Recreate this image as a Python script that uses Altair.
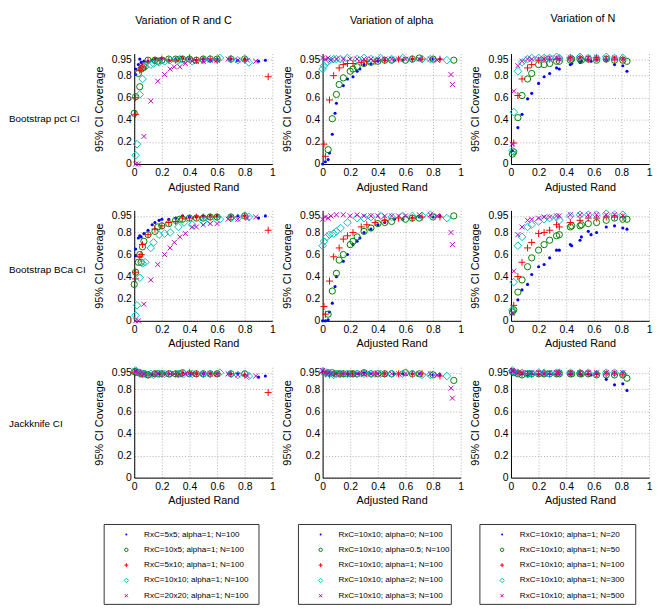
import altair as alt
import pandas as pd

FONT = "Liberation Sans"

COL_TITLES = ["Variation of R and C", "Variation of alpha", "Variation of N"]
ROW_LABELS = ["Bootstrap pct CI", "Bootstrap BCa CI", "Jackknife CI"]
X_TITLE = "Adjusted Rand"
Y_TITLE = "95% CI Coverage"
X_TICKS = [0, 0.2, 0.4, 0.6, 0.8, 1]
Y_TICKS = [0, 0.2, 0.4, 0.6, 0.8, 0.95]

LEGEND_RC = ["RxC=5x5; alpha=1; N=100", "RxC=10x5; alpha=1; N=100", "RxC=5x10; alpha=1; N=100",
             "RxC=10x10; alpha=1; N=100", "RxC=20x20; alpha=1; N=100"]
LEGEND_ALPHA = ["RxC=10x10; alpha=0; N=100", "RxC=10x10; alpha=0.5; N=100", "RxC=10x10; alpha=1; N=100",
                "RxC=10x10; alpha=2; N=100", "RxC=10x10; alpha=3; N=100"]
LEGEND_N = ["RxC=10x10; alpha=1; N=20", "RxC=10x10; alpha=1; N=50", "RxC=10x10; alpha=1; N=100",
            "RxC=10x10; alpha=1; N=300", "RxC=10x10; alpha=1; N=500"]

# ---------------- Column 1: variation of R and C ----------------
RC_5x5_X = [0.01, 0.01, 0.03, 0.04, 0.05, 0.07, 0.10, 0.13, 0.15, 0.18, 0.20, 0.25, 0.30, 0.35, 0.40,
            0.45, 0.50, 0.55, 0.60, 0.70, 0.75, 0.80, 0.90, 0.95]
RC_5x5_PCT = [0.81, 0.86, 0.90, 0.95, 0.92, 0.93, 0.93, 0.94, 0.95, 0.95, 0.95, 0.94, 0.95, 0.96, 0.95,
              0.94, 0.95, 0.94, 0.95, 0.95, 0.94, 0.95, 0.93, 0.94]
RC_5x5_BCA = [0.59, 0.65, 0.75, 0.77, 0.76, 0.79, 0.82, 0.87, 0.89, 0.91, 0.92, 0.92, 0.93, 0.95, 0.94,
              0.94, 0.95, 0.95, 0.95, 0.95, 0.95, 0.95, 0.93, 0.95]
RC_5x5_JACK = [0.97, 0.96, 0.95, 0.94, 0.94, 0.94, 0.94, 0.93, 0.94, 0.94, 0.94, 0.94, 0.94, 0.95, 0.94,
               0.94, 0.94, 0.94, 0.94, 0.94, 0.94, 0.93, 0.91, 0.92]

RC_10x5_X = [0.00, 0.01, 0.03, 0.04, 0.05, 0.06, 0.07, 0.10, 0.15, 0.17, 0.20, 0.25, 0.30, 0.33, 0.35,
             0.40, 0.45, 0.50, 0.55, 0.60, 0.70, 0.80]
RC_10x5_PCT = [0.46, 0.61, 0.82, 0.70, 0.86, 0.87, 0.88, 0.94, 0.94, 0.93, 0.94, 0.95, 0.95, 0.95, 0.95,
               0.95, 0.94, 0.95, 0.95, 0.95, 0.95, 0.95]
RC_10x5_BCA = [0.33, 0.44, 0.53, 0.60, 0.53, 0.67, 0.72, 0.78, 0.81, 0.85, 0.86, 0.88, 0.91, 0.92, 0.92,
               0.93, 0.93, 0.93, 0.94, 0.94, 0.94, 0.95]
RC_10x5_JACK = [0.96, 0.96, 0.95, 0.95, 0.94, 0.94, 0.94, 0.93, 0.94, 0.94, 0.94, 0.94, 0.94, 0.94, 0.95,
                0.94, 0.94, 0.94, 0.94, 0.94, 0.94, 0.94]

RC_5x10_X = [0.01, 0.01, 0.04, 0.05, 0.06, 0.10, 0.15, 0.20, 0.25, 0.30, 0.35, 0.40, 0.45, 0.50, 0.55,
             0.60, 0.70, 0.80, 0.97]
RC_5x10_PCT = [0.45, 0.60, 0.85, 0.87, 0.88, 0.93, 0.94, 0.95, 0.94, 0.94, 0.95, 0.96, 0.94, 0.95, 0.95,
               0.94, 0.95, 0.94, 0.79]
RC_5x10_BCA = [0.38, 0.44, 0.58, 0.60, 0.69, 0.78, 0.83, 0.86, 0.89, 0.90, 0.93, 0.93, 0.94, 0.94, 0.94,
               0.94, 0.94, 0.95, 0.82]
RC_5x10_JACK = [0.96, 0.95, 0.94, 0.94, 0.94, 0.93, 0.94, 0.94, 0.94, 0.94, 0.94, 0.95, 0.94, 0.94, 0.94,
                0.94, 0.94, 0.93, 0.77]

RC_10x10_X = [0.01, 0.02, 0.04, 0.06, 0.08, 0.12, 0.14, 0.18, 0.22, 0.26, 0.32, 0.36, 0.42, 0.50, 0.55,
              0.62, 0.70, 0.75, 0.80, 0.83]
RC_10x10_PCT = [0.08, 0.18, 0.63, 0.77, 0.88, 0.90, 0.91, 0.92, 0.93, 0.94, 0.94, 0.94, 0.93, 0.94, 0.95,
                0.96, 0.95, 0.94, 0.95, 0.92]
RC_10x10_BCA = [0.05, 0.14, 0.39, 0.52, 0.53, 0.66, 0.71, 0.78, 0.79, 0.80, 0.85, 0.89, 0.87, 0.90, 0.91,
                0.92, 0.93, 0.93, 0.95, 0.94]
RC_10x10_JACK = [0.97, 0.96, 0.95, 0.94, 0.94, 0.94, 0.93, 0.94, 0.94, 0.94, 0.94, 0.94, 0.94, 0.94, 0.94,
                 0.95, 0.94, 0.93, 0.94, 0.92]

RC_20x20_X = [0.01, 0.03, 0.07, 0.12, 0.17, 0.22, 0.26, 0.29, 0.33, 0.37, 0.42, 0.45, 0.50, 0.55, 0.60,
              0.68, 0.75, 0.82, 0.88]
RC_20x20_PCT = [0.00, 0.00, 0.25, 0.57, 0.75, 0.81, 0.86, 0.88, 0.88, 0.91, 0.93, 0.93, 0.93, 0.94, 0.94,
                0.95, 0.94, 0.94, 0.93]
RC_20x20_BCA = [0.00, 0.00, 0.15, 0.37, 0.51, 0.60, 0.66, 0.71, 0.76, 0.79, 0.85, 0.85, 0.87, 0.88, 0.88,
                0.92, 0.92, 0.93, 0.94]
RC_20x20_JACK = [0.96, 0.95, 0.94, 0.94, 0.94, 0.94, 0.94, 0.94, 0.93, 0.94, 0.94, 0.94, 0.94, 0.94, 0.94,
                 0.94, 0.93, 0.92, 0.92]

# ---------------- Column 2: variation of alpha ----------------
AL_0_X = [0.00, 0.02, 0.04, 0.05, 0.07, 0.09, 0.10, 0.15, 0.18, 0.22, 0.25, 0.27, 0.30, 0.35, 0.40,
          0.45, 0.52, 0.58, 0.65, 0.70, 0.80, 0.85]
AL_0_PCT = [0.00, 0.02, 0.04, 0.10, 0.27, 0.46, 0.55, 0.71, 0.77, 0.79, 0.84, 0.86, 0.90, 0.91, 0.93,
            0.94, 0.94, 0.94, 0.95, 0.95, 0.95, 0.95]
AL_0_BCA = [0.00, 0.00, 0.01, 0.08, 0.16, 0.31, 0.40, 0.54, 0.60, 0.69, 0.72, 0.75, 0.80, 0.83, 0.87,
            0.89, 0.92, 0.92, 0.93, 0.94, 0.94, 0.95]
AL_0_JACK = [0.96, 0.95, 0.95, 0.95, 0.95, 0.94, 0.94, 0.94, 0.94, 0.94, 0.94, 0.94, 0.95, 0.94, 0.94,
             0.94, 0.94, 0.94, 0.94, 0.94, 0.93, 0.93]

AL_05_X = [0.04, 0.07, 0.10, 0.12, 0.15, 0.20, 0.22, 0.25, 0.30, 0.35, 0.40, 0.45, 0.50, 0.60, 0.65,
           0.70, 0.80, 0.95]
AL_05_PCT = [0.13, 0.41, 0.63, 0.72, 0.78, 0.84, 0.86, 0.88, 0.91, 0.92, 0.93, 0.94, 0.94, 0.94, 0.95,
             0.96, 0.95, 0.94]
AL_05_BCA = [0.06, 0.27, 0.43, 0.55, 0.60, 0.69, 0.72, 0.76, 0.81, 0.84, 0.88, 0.89, 0.90, 0.92, 0.93,
             0.93, 0.94, 0.95]
AL_05_JACK = [0.95, 0.95, 0.94, 0.94, 0.94, 0.94, 0.94, 0.94, 0.95, 0.94, 0.94, 0.94, 0.94, 0.95, 0.94,
              0.94, 0.93, 0.88]

AL_1_X = [0.01, 0.02, 0.05, 0.08, 0.12, 0.15, 0.18, 0.22, 0.28, 0.32, 0.38, 0.45, 0.55, 0.65, 0.72, 0.85]
AL_1_PCT = [0.18, 0.07, 0.58, 0.80, 0.87, 0.90, 0.91, 0.91, 0.92, 0.93, 0.93, 0.94, 0.95, 0.95, 0.95, 0.95]
AL_1_BCA = [0.13, 0.06, 0.36, 0.58, 0.66, 0.74, 0.77, 0.80, 0.85, 0.87, 0.89, 0.91, 0.93, 0.93, 0.94, 0.94]
AL_1_JACK = [0.95, 0.94, 0.93, 0.94, 0.94, 0.94, 0.94, 0.94, 0.94, 0.94, 0.94, 0.94, 0.94, 0.94, 0.94, 0.92]

AL_2_X = [0.00, 0.01, 0.03, 0.05, 0.08, 0.10, 0.13, 0.18, 0.25, 0.30, 0.35, 0.42, 0.50, 0.58, 0.65,
          0.72, 0.78, 0.90]
AL_2_PCT = [0.86, 0.89, 0.92, 0.94, 0.95, 0.95, 0.95, 0.96, 0.95, 0.96, 0.95, 0.96, 0.95, 0.96, 0.95,
            0.95, 0.95, 0.94]
AL_2_BCA = [0.68, 0.72, 0.76, 0.78, 0.79, 0.81, 0.84, 0.89, 0.93, 0.93, 0.94, 0.95, 0.94, 0.95, 0.95,
            0.95, 0.96, 0.93]
AL_2_JACK = [0.96, 0.95, 0.95, 0.94, 0.93, 0.94, 0.94, 0.94, 0.94, 0.94, 0.94, 0.94, 0.94, 0.94, 0.94,
             0.93, 0.93, 0.92]

AL_3_X = [0.00, 0.02, 0.04, 0.06, 0.10, 0.15, 0.20, 0.25, 0.30, 0.35, 0.40, 0.45, 0.50, 0.55, 0.60,
          0.70, 0.78, 0.83, 0.93, 0.94]
AL_3_PCT = [0.96, 0.95, 0.96, 0.94, 0.95, 0.95, 0.95, 0.95, 0.95, 0.95, 0.95, 0.95, 0.95, 0.95, 0.95,
            0.95, 0.95, 0.94, 0.81, 0.72]
AL_3_BCA = [0.92, 0.94, 0.93, 0.95, 0.96, 0.96, 0.95, 0.96, 0.95, 0.95, 0.95, 0.95, 0.95, 0.95, 0.95,
            0.96, 0.96, 0.95, 0.80, 0.69]
AL_3_JACK = [0.97, 0.95, 0.95, 0.94, 0.94, 0.94, 0.94, 0.94, 0.94, 0.94, 0.94, 0.94, 0.94, 0.94, 0.94,
             0.94, 0.94, 0.93, 0.81, 0.72]

# ---------------- Column 3: variation of N ----------------
N20_X = [0.01, 0.05, 0.08, 0.12, 0.15, 0.20, 0.24, 0.28, 0.33, 0.35, 0.43, 0.44, 0.50, 0.51, 0.56,
         0.58, 0.62, 0.69, 0.75, 0.81, 0.84]
N20_PCT = [0.12, 0.33, 0.45, 0.59, 0.64, 0.73, 0.79, 0.82, 0.87, 0.86, 0.90, 0.91, 0.92, 0.93, 0.94,
           0.93, 0.94, 0.94, 0.90, 0.89, 0.84]
N20_BCA = [0.07, 0.19, 0.28, 0.33, 0.42, 0.49, 0.51, 0.57, 0.64, 0.64, 0.69, 0.68, 0.73, 0.76, 0.81,
           0.78, 0.80, 0.85, 0.86, 0.84, 0.83]
N20_JACK = [0.97, 0.95, 0.94, 0.92, 0.94, 0.93, 0.94, 0.94, 0.93, 0.94, 0.93, 0.94, 0.94, 0.93, 0.94,
            0.93, 0.94, 0.89, 0.84, 0.85, 0.79]

N50_X = [0.01, 0.02, 0.05, 0.08, 0.12, 0.15, 0.20, 0.24, 0.28, 0.33, 0.35, 0.43, 0.44, 0.50, 0.51,
         0.56, 0.62, 0.69, 0.75, 0.81, 0.84]
N50_PCT = [0.09, 0.11, 0.42, 0.62, 0.77, 0.82, 0.90, 0.90, 0.91, 0.93, 0.93, 0.94, 0.95, 0.95, 0.94,
           0.95, 0.94, 0.95, 0.94, 0.94, 0.93]
N50_BCA = [0.08, 0.10, 0.26, 0.37, 0.49, 0.57, 0.64, 0.69, 0.73, 0.77, 0.78, 0.85, 0.86, 0.86, 0.87,
           0.88, 0.89, 0.91, 0.93, 0.92, 0.92]
N50_JACK = [0.96, 0.95, 0.94, 0.93, 0.94, 0.94, 0.94, 0.94, 0.94, 0.94, 0.94, 0.94, 0.94, 0.94, 0.94,
            0.94, 0.93, 0.93, 0.93, 0.93, 0.90]

N100_X = [0.02, 0.05, 0.08, 0.12, 0.15, 0.20, 0.24, 0.28, 0.33, 0.35, 0.43, 0.50, 0.56, 0.62, 0.69,
          0.75, 0.81]
N100_PCT = [0.19, 0.62, 0.77, 0.87, 0.90, 0.94, 0.95, 0.95, 0.95, 0.95, 0.96, 0.96, 0.95, 0.96, 0.95,
            0.95, 0.95]
N100_BCA = [0.14, 0.40, 0.53, 0.66, 0.71, 0.79, 0.80, 0.82, 0.87, 0.85, 0.89, 0.91, 0.93, 0.93, 0.94,
            0.94, 0.94]
N100_JACK = [0.96, 0.95, 0.94, 0.94, 0.94, 0.94, 0.94, 0.94, 0.94, 0.95, 0.94, 0.94, 0.94, 0.94, 0.94,
             0.94, 0.93]

N300_X = [0.01, 0.02, 0.05, 0.08, 0.12, 0.15, 0.20, 0.24, 0.28, 0.33, 0.35, 0.43, 0.50, 0.56, 0.62,
          0.69, 0.75, 0.81]
N300_PCT = [0.12, 0.47, 0.84, 0.92, 0.95, 0.96, 0.96, 0.96, 0.96, 0.97, 0.96, 0.96, 0.97, 0.96, 0.96,
            0.97, 0.96, 0.96]
N300_BCA = [0.10, 0.35, 0.68, 0.76, 0.85, 0.87, 0.90, 0.92, 0.93, 0.94, 0.91, 0.95, 0.96, 0.96, 0.96,
            0.97, 0.96, 0.96]
N300_JACK = [0.97, 0.96, 0.95, 0.95, 0.94, 0.94, 0.95, 0.95, 0.94, 0.95, 0.95, 0.95, 0.95, 0.95, 0.94,
             0.95, 0.95, 0.94]

N500_X = [0.01, 0.02, 0.05, 0.08, 0.12, 0.15, 0.20, 0.24, 0.28, 0.33, 0.35, 0.43, 0.50, 0.56, 0.62,
          0.69, 0.75, 0.81]
N500_PCT = [0.18, 0.66, 0.89, 0.93, 0.95, 0.95, 0.95, 0.95, 0.96, 0.96, 0.95, 0.96, 0.96, 0.96, 0.96,
            0.96, 0.96, 0.95]
N500_BCA = [0.07, 0.45, 0.78, 0.85, 0.91, 0.92, 0.93, 0.94, 0.94, 0.95, 0.95, 0.96, 0.96, 0.96, 0.96,
            0.96, 0.96, 0.95]
N500_JACK = [0.97, 0.96, 0.95, 0.95, 0.95, 0.95, 0.95, 0.94, 0.95, 0.95, 0.95, 0.95, 0.95, 0.95, 0.95,
             0.95, 0.95, 0.95]

COLUMNS = [
    [(RC_5x5_X, RC_5x5_PCT, RC_5x5_BCA, RC_5x5_JACK),
     (RC_10x5_X, RC_10x5_PCT, RC_10x5_BCA, RC_10x5_JACK),
     (RC_5x10_X, RC_5x10_PCT, RC_5x10_BCA, RC_5x10_JACK),
     (RC_10x10_X, RC_10x10_PCT, RC_10x10_BCA, RC_10x10_JACK),
     (RC_20x20_X, RC_20x20_PCT, RC_20x20_BCA, RC_20x20_JACK)],
    [(AL_0_X, AL_0_PCT, AL_0_BCA, AL_0_JACK),
     (AL_05_X, AL_05_PCT, AL_05_BCA, AL_05_JACK),
     (AL_1_X, AL_1_PCT, AL_1_BCA, AL_1_JACK),
     (AL_2_X, AL_2_PCT, AL_2_BCA, AL_2_JACK),
     (AL_3_X, AL_3_PCT, AL_3_BCA, AL_3_JACK)],
    [(N20_X, N20_PCT, N20_BCA, N20_JACK),
     (N50_X, N50_PCT, N50_BCA, N50_JACK),
     (N100_X, N100_PCT, N100_BCA, N100_JACK),
     (N300_X, N300_PCT, N300_BCA, N300_JACK),
     (N500_X, N500_PCT, N500_BCA, N500_JACK)],
]
LEGENDS = [LEGEND_RC, LEGEND_ALPHA, LEGEND_N]

# ---------------- styles ----------------
COLORS = ["#0000ff", "#008000", "#ff0000", "#00bfbf", "#bf00bf"]
PLUS = "M-1,0L1,0M0,-1L0,1"
CROSS = "M-1,-1L1,1M-1,1L1,-1"
SHAPES = ["circle", "circle", PLUS, "diamond", CROSS]
FILLED = [True, False, False, False, False]
SIZES = [10, 40, 49, 60, 25]
LEG_SIZES = [4, 12, 16, 20, 10]

PW, PH = 140, 112
LABEL_W = 76
TITLE_DX = [-20, 0, 3]
LABEL_Y = [66, 61, 58]

x_axis = alt.Axis(title=X_TITLE, values=X_TICKS, format=".2~f", grid=True, ticks=False, tickSize=0,
                  labelFlush=False, labelOverlap=False, labelPadding=4, titlePadding=3)
y_axis = alt.Axis(title=Y_TITLE, values=Y_TICKS, format=".2~f", grid=True, ticks=False, tickSize=0,
                  labelFlush=False, labelOverlap=False, labelPadding=3, titlePadding=7)
x_scale = alt.Scale(domain=[0, 1], nice=False, zero=False)
y_scale = alt.Scale(domain=[0, 1], nice=False, zero=False)


def panel(col, which):
    layers = []
    for k, s in enumerate(COLUMNS[col]):
        xs, ys = s[0], s[which]
        n = min(len(xs), len(ys))
        df = pd.DataFrame({"x": xs[:n], "y": ys[:n]})
        layers.append(
            alt.Chart(df).mark_point(shape=SHAPES[k], filled=FILLED[k], color=COLORS[k], size=SIZES[k],
                                     strokeWidth=1, opacity=1)
            .encode(x=alt.X("x:Q", scale=x_scale, axis=x_axis),
                    y=alt.Y("y:Q", scale=y_scale, axis=y_axis))
        )
    ch = alt.layer(*layers).properties(width=PW, height=PH)
    if which == 1:
        ch = ch.properties(title=alt.TitleParams(text=COL_TITLES[col], fontSize=11, font=FONT,
                                                 fontWeight="normal", color="black", offset=27,
                                                 frame="group", anchor="middle", dx=TITLE_DX[col]))
    return ch


def row_label(r):
    df = pd.DataFrame({"t": [ROW_LABELS[r]]})
    return (alt.Chart(df).mark_text(align="left", baseline="middle", font=FONT, fontSize=10, color="black")
            .encode(text="t:N", x=alt.value(0), y=alt.value(LABEL_Y[r]))
            .properties(width=LABEL_W, height=PH))


LH = 82
LEG_X0 = [-31, -25, -32]     # legend box left edge relative to its panel column
LEG_W = [158, 156, 159]


def spacer(w, h):
    return (alt.Chart(pd.DataFrame({"a": [0]})).mark_point(opacity=0, size=1)
            .encode(x=alt.value(w / 2), y=alt.value(h / 2)).properties(width=w, height=h))


def legend(c):
    x0 = LEG_X0[c]
    df = pd.DataFrame({"row": list(range(5)), "label": LEGENDS[c]})
    yenc = alt.Y("row:Q", scale=alt.Scale(domain=[-0.69, 4.6], reverse=True, nice=False, zero=False), axis=None)
    box = (alt.Chart(pd.DataFrame({"a": [0]})).mark_rect(fill="transparent", stroke="#333333", strokeWidth=1)
           .encode(x=alt.value(x0 + 0.5), x2=alt.value(x0 + LEG_W[c] - 0.5),
                   y=alt.value(0.5), y2=alt.value(LH - 0.5)))
    syms = []
    for k in range(5):
        syms.append(
            alt.Chart(df.iloc[[k]]).mark_point(shape=SHAPES[k], filled=FILLED[k], color=COLORS[k],
                                               size=LEG_SIZES[k], strokeWidth=1, opacity=1)
            .encode(x=alt.value(x0 + 23), y=yenc)
        )
    text = (alt.Chart(df).mark_text(align="left", baseline="middle", font=FONT, fontSize=8.2, color="black")
            .encode(x=alt.value(x0 + 41), y=yenc, text="label:N"))
    return alt.layer(box, *syms, text).properties(width=PW, height=LH)


cells = []
for r in range(3):
    cells += [row_label(r), panel(0, r + 1), panel(1, r + 1), panel(2, r + 1)]
cells += [spacer(LABEL_W, LH), legend(0), legend(1), legend(2)]

chart = (alt.concat(*cells, columns=4, spacing={"row": 47, "column": 51}, bounds="flush")
         .properties(padding=0)
         .configure_view(stroke="transparent")
         .configure_axis(labelFont=FONT, titleFont=FONT, labelFontSize=10.5, titleFontSize=11,
                         titleFontWeight="normal", labelColor="black", titleColor="black",
                         domainColor="black", domainWidth=1, gridColor="#b0b0b0", gridDash=[1, 2],
                         gridWidth=1))

chart.save("out.html", embed_options={"renderer": "svg", "actions": False})
